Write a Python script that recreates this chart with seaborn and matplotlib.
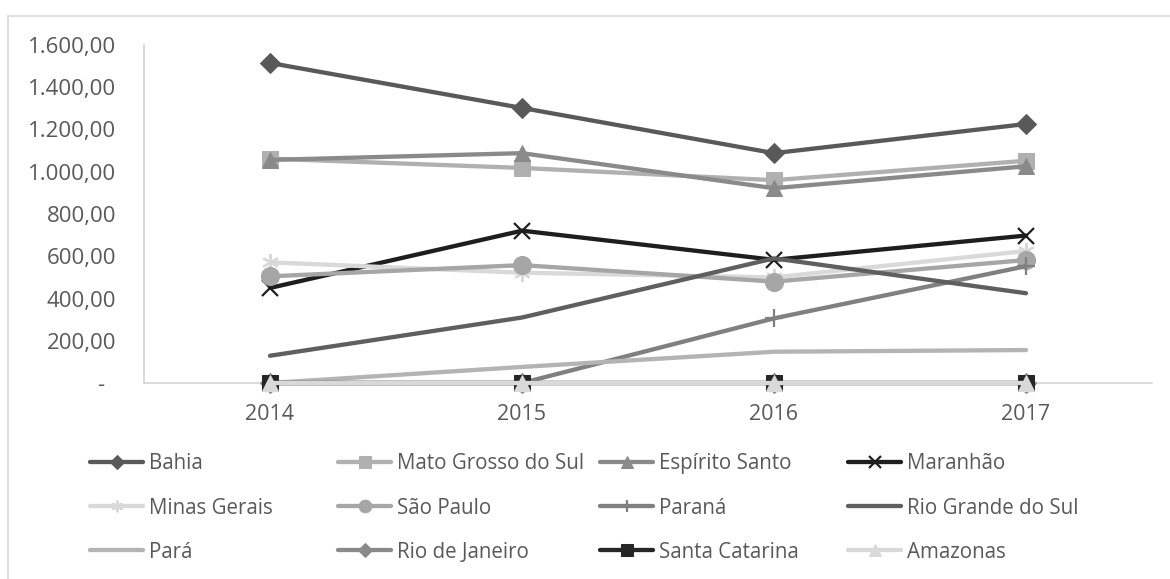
import matplotlib
matplotlib.use("Agg")
import matplotlib.pyplot as plt
import matplotlib.patches as mpatches
from matplotlib.ticker import FuncFormatter
import seaborn as sns
import pandas as pd

# ---- data ----
years = [2014, 2015, 2016, 2017]
states = ["Bahia", "Mato Grosso do Sul", "Espírito Santo", "Maranhão",
          "Minas Gerais", "São Paulo", "Paraná", "Rio Grande do Sul",
          "Pará", "Rio de Janeiro", "Santa Catarina", "Amazonas"]
bahia = [1515, 1302, 1088, 1226]
mato_grosso_do_sul = [1062, 1018, 960, 1052]
espirito_santo = [1056, 1088, 922, 1026]
maranhao = [450, 721, 583, 698]
minas_gerais = [571, 522, 500, 625]
sao_paulo = [505, 558, 480, 582]
parana = [0, 0, 306, 553]
rio_grande_do_sul = [129, 310, 590, 425]
para = [0, 76, 148, 156]
rio_de_janeiro = [0, 0, 0, 0]
santa_catarina = [0, 0, 0, 0]
amazonas = [0, 0, 0, 0]
values = [bahia, mato_grosso_do_sul, espirito_santo, maranhao, minas_gerais,
          sao_paulo, parana, rio_grande_do_sul, para, rio_de_janeiro,
          santa_catarina, amazonas]

df = pd.DataFrame([(s, y, v) for s, vals in zip(states, values)
                   for y, v in zip(years, vals)],
                  columns=["Estado", "Ano", "Valor"])

# ---- styles ----
colors = ["#595959", "#b0b0b0", "#8a8a8a", "#1e1e1e",
          "#d9d9d9", "#a6a6a6", "#808080", "#5f5f5f",
          "#b4b4b4", "#8a8a8a", "#262626", "#d9d9d9"]
markers = ["D", "s", "^", "x", (6, 2, 0), "o", "+", "", "", "D", "s", "^"]
msizes = [10, 12, 12, 12, 12, 13, 13, 0, 0, 10, 12, 12]

sns.set_theme(style="white")
plt.rcParams["font.family"] = ["Open Sans", "DejaVu Sans"]

fig = plt.figure(figsize=(11.7, 5.79), dpi=100)
W, H = 1170, 579
ax = fig.add_axes([144 / W, 1 - 383 / H, (1152 - 144) / W, (383 - 45) / H])

for i, st in enumerate(states):
    sub = df[df["Estado"] == st]
    mk = markers[i]
    kw = dict(marker=mk, markersize=msizes[i], markeredgecolor=colors[i],
              markerfacecolor=colors[i])
    if mk in ("x", "+") or isinstance(mk, tuple):
        kw["markeredgewidth"] = 1.6
    if mk == "":
        kw = dict(marker=None)
    sns.lineplot(data=sub, x="Ano", y="Valor", color=colors[i], lw=3.1,
                 label=st, ax=ax, clip_on=False, zorder=3 + i, **kw)

ax.set_xlim(2013.5, 2017.5)
ax.set_ylim(0, 1600)
ax.set_xticks(years)
ax.set_xticklabels([str(y) for y in years])
ax.set_yticks(range(0, 1601, 200))


def br_fmt(v, pos):
    if abs(v) < 1e-9:
        return "-  "
    s = f"{v:,.2f}"
    return s.replace(",", "X").replace(".", ",").replace("X", ".")


ax.yaxis.set_major_formatter(FuncFormatter(br_fmt))
ax.set_xlabel("")
ax.set_ylabel("")
ax.tick_params(axis="both", length=0, colors="#595959", labelsize=16)
ax.tick_params(axis="x", labelsize=15.5)
ax.tick_params(axis="y", pad=20)
ax.tick_params(axis="x", pad=15)
for sp in ["top", "right"]:
    ax.spines[sp].set_visible(False)
for sp in ["left", "bottom"]:
    ax.spines[sp].set_color("#d4d4d4")
    ax.spines[sp].set_linewidth(1.2)
ax.grid(False)

handles, labels = ax.get_legend_handles_labels()
ax.get_legend().remove()

col_x = [90, 338, 600, 848]
for c in range(4):
    idx = [c, c + 4, c + 8]
    leg = fig.legend([handles[k] for k in idx], [labels[k] for k in idx],
                     loc="center left", bbox_to_anchor=(col_x[c] / W, 1 - 508 / H),
                     frameon=False, fontsize=14.8, borderpad=0, borderaxespad=0,
                     handlelength=2.6, handletextpad=0.25, labelspacing=1.12,
                     markerscale=0.7, labelcolor="#595959")

frame = mpatches.Rectangle((8 / W, -0.2), 1.5, 1 - 16 / H + 0.2,
                           transform=fig.transFigure, fill=False,
                           edgecolor="#d9d9d9", lw=1.2)
fig.add_artist(frame)

fig.savefig("out.png", dpi=100)
